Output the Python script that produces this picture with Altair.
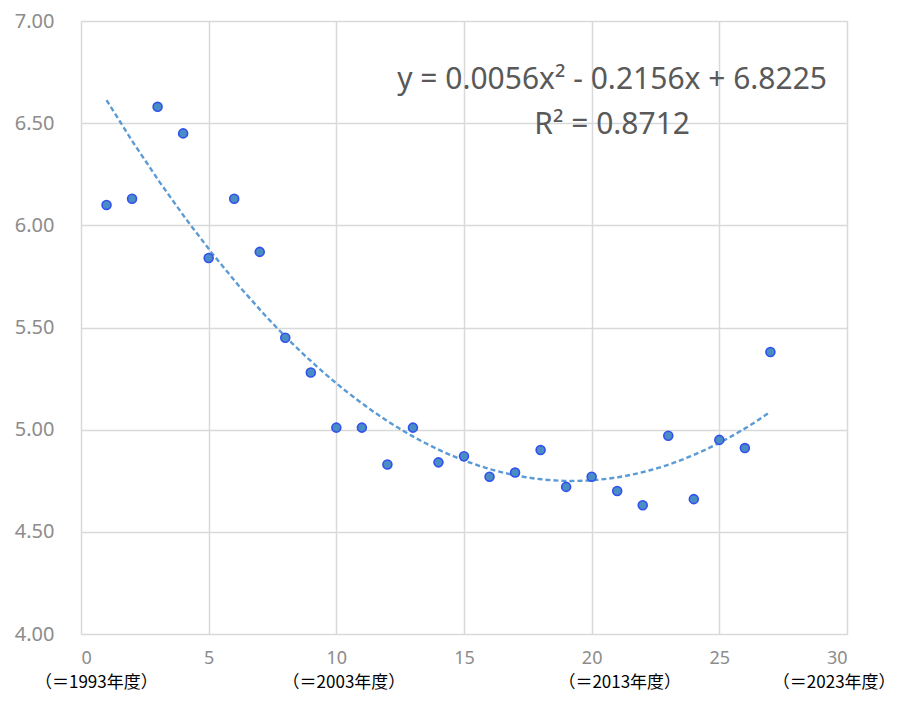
import altair as alt
import pandas as pd

# data
xs = list(range(1, 28))
ys = [6.10, 6.13, 6.58, 6.45, 5.84, 6.13, 5.87, 5.45, 5.28, 5.01,
      5.01, 4.83, 5.01, 4.84, 4.87, 4.77, 4.79, 4.90, 4.72, 4.77,
      4.70, 4.63, 4.97, 4.66, 4.95, 4.91, 5.38]

eq_text = ["y = 0.0056x² - 0.2156x + 6.8225", "R² = 0.8712"]
eq_x = [20.8, 20.8]
eq_y = [6.71, 6.49]

year_labels = ["（＝1993年度）", "（＝2003年度）", "（＝2013年度）", "（＝2023年度）"]
year_x = [0.6, 10.3, 21.1, 29.5]

df = pd.DataFrame({"x": xs, "y": ys})
eq_df = pd.DataFrame({"t": eq_text, "x": eq_x, "y": eq_y})
yr_df = pd.DataFrame({"t": year_labels, "x": year_x})

xscale = alt.Scale(domain=[0, 30], nice=False, zero=False)
yscale = alt.Scale(domain=[4, 7], nice=False, zero=False)

xaxis = alt.Axis(values=[0, 5, 10, 15, 20, 25, 30], title=None, domain=False, ticks=False,
                 labelPadding=15, labelFontSize=18, labelColor="#8c8c8c",
                 labelFont="Noto Sans", gridColor="#d9d9d9", gridWidth=1.5)
yaxis = alt.Axis(values=[4, 4.5, 5, 5.5, 6, 6.5, 7], format=".2f", title=None, domain=False,
                 ticks=False, labelPadding=27, labelFontSize=20, labelColor="#8c8c8c",
                 labelFont="Noto Sans", gridColor="#d9d9d9", gridWidth=1.5)

points = alt.Chart(df).mark_point(filled=True, size=80, fill="#4a8cc4", stroke="#3050f0",
                                  strokeWidth=1.6, opacity=1).encode(
    x=alt.X("x:Q", scale=xscale, axis=xaxis),
    y=alt.Y("y:Q", scale=yscale, axis=yaxis),
)

trend = alt.Chart(df).transform_regression("x", "y", method="poly", order=2).mark_line(
    color="#5b9bd5", strokeWidth=2.4, strokeDash=[5, 3]
).encode(x=alt.X("x:Q", scale=xscale), y=alt.Y("y:Q", scale=yscale))

eq = alt.Chart(eq_df).mark_text(fontSize=30, font="Noto Sans", color="#595959",
                                align="center", baseline="middle").encode(
    x=alt.X("x:Q", scale=xscale), y=alt.Y("y:Q", scale=yscale), text="t:N")

yr = alt.Chart(yr_df).mark_text(fontSize=17, font="Noto Sans CJK JP", color="#000000",
                                align="center", baseline="middle").encode(
    x=alt.X("x:Q", scale=xscale), y=alt.value(662), text="t:N")

chart = alt.layer(trend, points, eq, yr).properties(
    width=766, height=613,
    autosize=alt.AutoSizeParams(type="none"),
    padding={"left": 73, "top": 13, "right": 50, "bottom": 62},
).configure_view(stroke=None).configure(background="white")

chart.save("out.html", embed_options={"renderer": "svg", "actions": False})
